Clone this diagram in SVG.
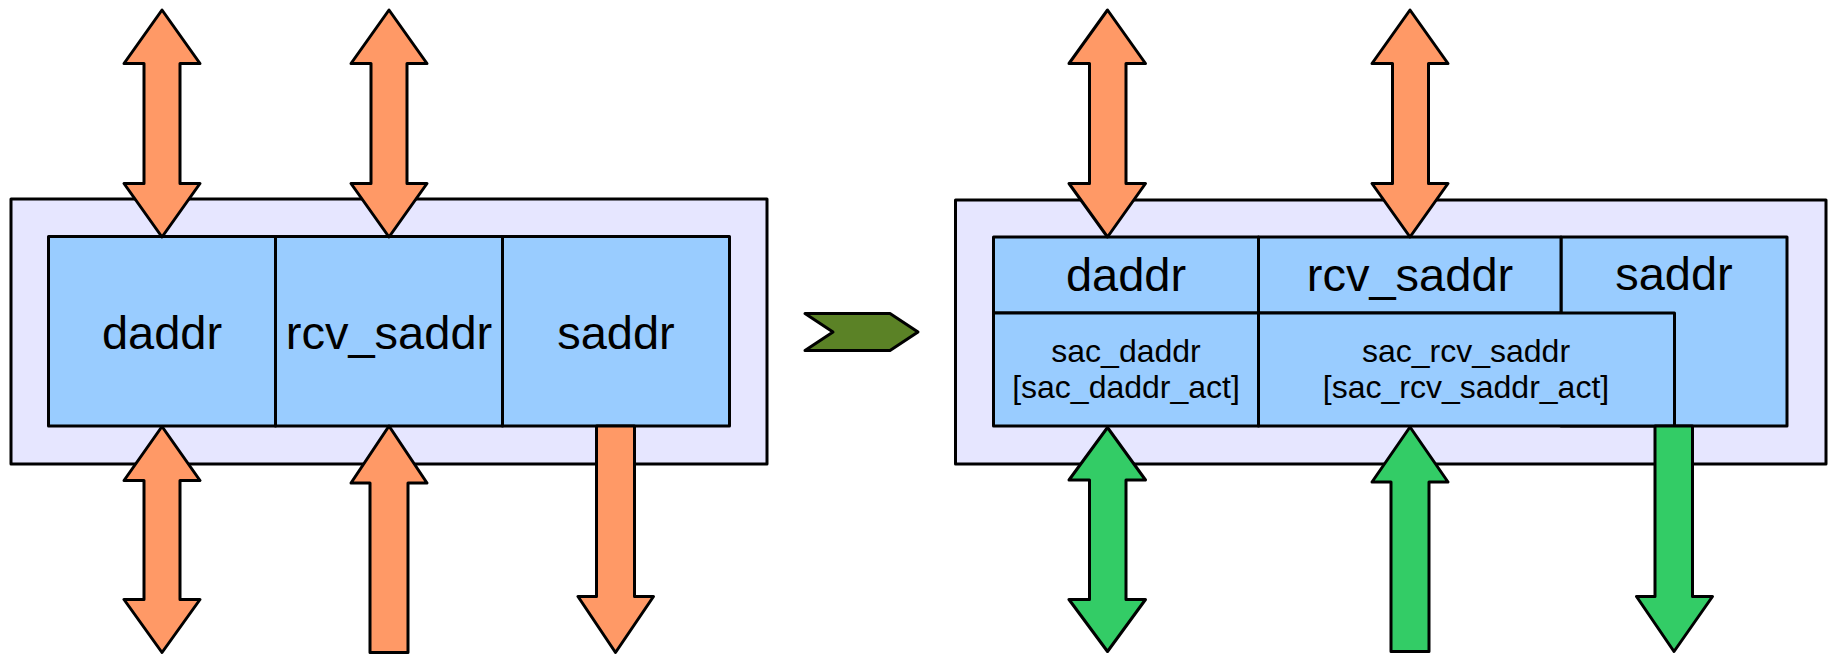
<svg xmlns="http://www.w3.org/2000/svg" width="1830" height="655" viewBox="0 0 1830 655">
<style>
.outer{fill:#e6e6ff;stroke:#000;stroke-width:3;stroke-linejoin:round}
.cell{fill:#99ccff;stroke:#000;stroke-width:3;stroke-linejoin:round}
.org{fill:#ff9966;stroke:#000;stroke-width:3;stroke-linejoin:round}
.grn{fill:#33cc66;stroke:#000;stroke-width:3;stroke-linejoin:round}
.chev{fill:#5b8226;stroke:#000;stroke-width:3;stroke-linejoin:round}
.big{font-family:"Liberation Sans",Arial,sans-serif;font-size:47px;fill:#000;text-anchor:middle}
.small{font-family:"Liberation Sans",Arial,sans-serif;font-size:32px;fill:#000;text-anchor:middle}
</style>
<rect width="1830" height="655" fill="#fff"/>

<g id="left-table">
  <rect class="outer" x="11" y="199" width="756" height="265"/>
  <g id="left-daddr"><rect class="cell" x="48.5" y="236.5" width="227" height="189.5"/><text class="big" x="162" y="349">daddr</text></g>
  <g id="left-rcv_saddr"><rect class="cell" x="275.5" y="236.5" width="227" height="189.5"/><text class="big" x="389" y="349">rcv_saddr</text></g>
  <g id="left-saddr"><rect class="cell" x="502.5" y="236.5" width="227" height="189.5"/><text class="big" x="616" y="349">saddr</text></g>
</g>

<g id="right-table">
  <rect class="outer" x="955.5" y="200" width="870.5" height="264"/>
  <g id="right-saddr"><rect class="cell" x="1561" y="237" width="226" height="189"/><text class="big" x="1674" y="290">saddr</text></g>
  <g id="right-daddr"><rect class="cell" x="993.5" y="237" width="265" height="76"/><text class="big" x="1126" y="291">daddr</text></g>
  <g id="right-rcv_saddr"><rect class="cell" x="1258.5" y="237" width="302.5" height="76"/><text class="big" x="1410" y="291">rcv_saddr</text></g>
  <g id="right-sac_daddr"><rect class="cell" x="993.5" y="313" width="265" height="113"/><text class="small" x="1126" y="361.5">sac_daddr</text><text class="small" x="1126" y="398">[sac_daddr_act]</text></g>
  <g id="right-sac_rcv_saddr"><rect class="cell" x="1258.5" y="313" width="416" height="113"/><text class="small" x="1466" y="361.5">sac_rcv_saddr</text><text class="small" x="1466" y="398">[sac_rcv_saddr_act]</text></g>
</g>

<g id="transform-chevron">
  <polygon class="chev" points="805,313.5 890,313.5 918,332 890,350.5 805,350.5 833,332"/>
</g>

<g id="connectors">
  <!-- left top double arrows -->
  <polygon class="org" points="162,10 200,63.5 180,63.5 180,183.5 200,183.5 162,237 124,183.5 144,183.5 144,63.5 124,63.5"/>
  <polygon class="org" points="389,10 427,63.5 407,63.5 407,183.5 427,183.5 389,237 351,183.5 371,183.5 371,63.5 351,63.5"/>
  <!-- left bottom arrows -->
  <polygon class="org" points="162,426.5 200,480.5 180,480.5 180,599.5 200,599.5 162,652.5 124,599.5 144,599.5 144,480.5 124,480.5"/>
  <polygon class="org" points="389,426 427,483 408,483 408,652.5 370,652.5 370,483 351,483"/>
  <polygon class="org" points="596.5,426 634.5,426 634.5,596.5 653.5,596.5 615.5,652.5 578,596.5 596.5,596.5"/>
  <!-- right top double arrows -->
  <polygon class="org" points="1107.5,10 1145.5,63.5 1126,63.5 1126,183.5 1145.5,183.5 1107.5,237 1069,183.5 1089.5,183.5 1089.5,63.5 1069,63.5"/>
  <polygon class="org" points="1410,10 1448,63.5 1428.5,63.5 1428.5,183.5 1448,183.5 1410,237 1372,183.5 1392.5,183.5 1392.5,63.5 1372,63.5"/>
  <!-- right bottom green arrows -->
  <polygon class="grn" points="1107.5,427.5 1145.5,480 1126,480 1126,599.5 1145.5,599.5 1107.5,651.5 1069,599.5 1089.5,599.5 1089.5,480 1069,480"/>
  <polygon class="grn" points="1410,427 1448,482 1429,482 1429,651.5 1391,651.5 1391,482 1372,482"/>
  <polygon class="grn" points="1655,426 1692.5,426 1692.5,596.5 1712.5,596.5 1674,651.5 1636.5,596.5 1655,596.5"/>
</g>
</svg>
